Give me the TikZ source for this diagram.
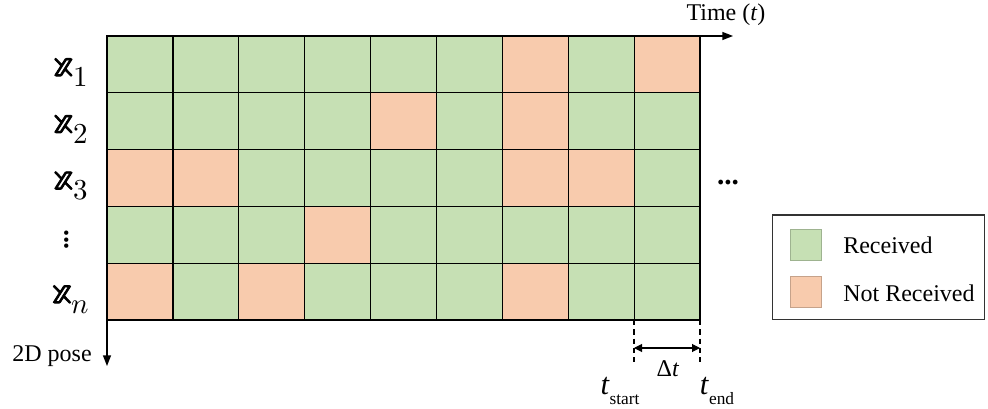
\documentclass[tikz,border=0pt]{standalone}
\usepackage{fontspec}
\usepackage{unicode-math}
\setmainfont{Liberation Serif}
\newfontfamily\bbfont{latinmodern-math.otf}[FakeBold=2]
\usetikzlibrary{arrows.meta}
\definecolor{recv}{HTML}{C6E0B4}
\definecolor{notr}{HTML}{F8CBAD}
\newcommand{\bbx}{{\bbfont\bfseries 𝕩}}
\begin{document}
\begin{tikzpicture}[x=0.75pt,y=-0.75pt,
  cell/.style={draw=black,line width=1pt,minimum width=49.4pt,minimum height=42.6pt,inner sep=0pt,fill=recv},
  lbl/.style={font=\fontsize{18}{20}\selectfont,inner sep=0pt},
  rowlbl/.style={font=\fontsize{31}{34}\selectfont,inner sep=0pt},
  swatch/.style={minimum width=23pt,minimum height=23pt,inner sep=0pt,line width=0.4pt},
  axis/.style={line width=1pt,-{Triangle[length=8pt,width=6pt]}},
  tick/.style={line width=1pt,dash pattern=on 4pt off 3pt}]
\useasboundingbox (0,0) rectangle (988,409);
% cells
\foreach \r in {1,...,5}{
  \foreach \c in {1,...,9}{
    \node[cell] (c\r\c) at ({107+(\c-0.5)*65.9},{36+(\r-0.5)*56.8}) {};
  }
}
\foreach \r/\c in {1/7,1/9,2/5,2/7,3/1,3/2,3/7,3/8,4/4,5/1,5/3,5/7}{
  \node[cell,fill=notr] (o\r\c) at ({107+(\c-0.5)*65.9},{36+(\r-0.5)*56.8}) {};
}
% axes
\coordinate (origin) at (107,36);
\coordinate (tend) at (733,36);
\coordinate (bottom) at (107,320);
\coordinate (pend) at (107,366);
\draw[axis] (origin) -- (tend);
\draw[axis] (bottom) -- (pend);
\node[lbl,anchor=south] (timelbl) at (726,26) {Time (\textit{t})};
\node[lbl,anchor=east] (poselbl) at (92,356) {2D pose};
% row labels
\node[rowlbl] (x1) at (71,{36+0.5*56.8+8}) {$\text{\bbx}_1$};
\node[rowlbl] (x2) at (71,{36+1.5*56.8+8}) {$\text{\bbx}_2$};
\node[rowlbl] (x3) at (71,{36+2.5*56.8+8}) {$\text{\bbx}_3$};
\node[lbl,rotate=90,font=\fontsize{20}{22}\selectfont\bfseries] (xv) at (67,240) {...};
\node[rowlbl] (xn) at (71,{36+4.5*56.8+8}) {$\text{\bbx}_n$};
\node[lbl,font=\fontsize{22}{24}\selectfont\bfseries] (more) at (728,183) {...};
% delta t
\coordinate (ds1) at (634,320);
\coordinate (ds2) at (634,362);
\coordinate (de1) at (700,320);
\coordinate (de2) at (700,362);
\draw[tick] (ds1) -- (ds2);
\draw[tick] (de1) -- (de2);
\coordinate (da) at (634,348);
\coordinate (db) at (700,348);
\draw[line width=0.8pt,{Triangle[length=6pt,width=6pt]}-{Triangle[length=6pt,width=6pt]}] (da) -- (db);
\node[lbl] (dt) at (668,369) {Δ\textit{t}};
\node[lbl,font=\fontsize{23}{26}\selectfont] (ts) at (620,391) {\textit{t}\raisebox{-0.3em}{\fontsize{13}{15}\selectfont start}};
\node[lbl,font=\fontsize{23}{26}\selectfont] (te) at (717,391) {\textit{t}\raisebox{-0.3em}{\fontsize{13}{15}\selectfont end}};
% legend
\node[draw=black!80,line width=1pt,minimum width=159pt,minimum height=78.5pt,inner sep=0pt] (legend) at (878.5,267.5) {};
\node[swatch,fill=recv,draw=recv!80!black] (sw1) at (806,244.5) {};
\node[swatch,fill=notr,draw=notr!80!black] (sw2) at (806,291.5) {};
\node[lbl,anchor=west] (l1) at (843,245) {Received};
\node[lbl,anchor=west] (l2) at (843,293) {Not Received};
\end{tikzpicture}
\end{document}
